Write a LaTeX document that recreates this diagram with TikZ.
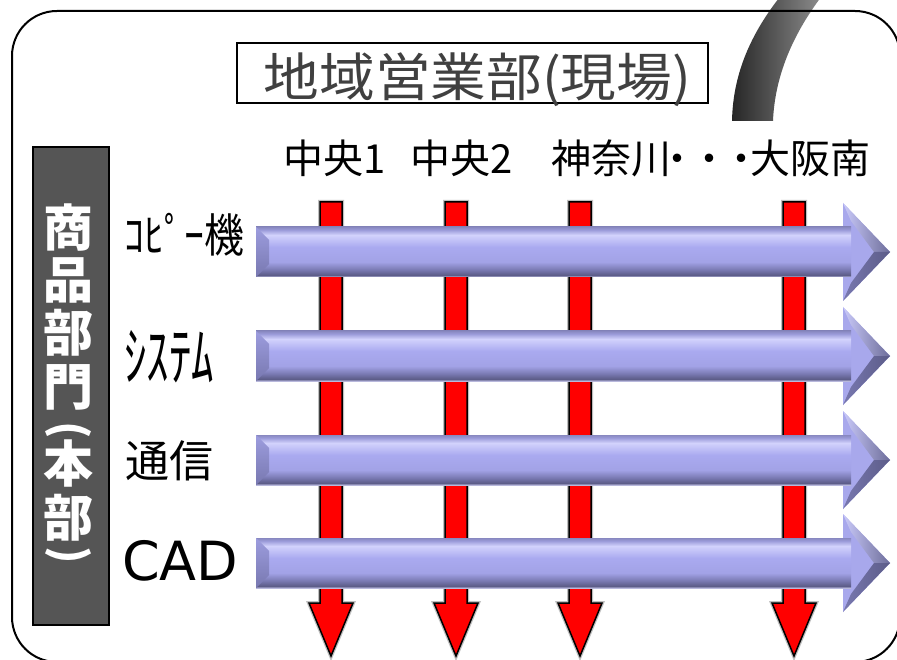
\documentclass[tikz,border=0pt]{standalone}
\usepackage{fontspec}
\setmainfont{Noto Sans CJK JP}
\newfontfamily\dejavu{DejaVu Sans}
\newfontfamily\titlefont{Noto Sans CJK JP}[FakeStretch=1.07]
\definecolor{bB0}{HTML}{B8B8DC}
\definecolor{bB1}{HTML}{5C5C88}
\definecolor{bB2}{HTML}{7878B0}
\definecolor{bB3}{HTML}{A2A2E6}
\definecolor{bB4}{HTML}{AAAAF0}
\definecolor{bB5}{HTML}{D2D2FC}
\definecolor{bB6}{HTML}{9C9CDA}
\definecolor{bB7}{HTML}{8888C0}
\definecolor{bMain}{HTML}{A8A8EC}
\definecolor{boxgray}{HTML}{555555}
\definecolor{titlegray}{HTML}{404040}
\pgfdeclareverticalshading{barshade}{100bp}{color(0bp)=(bB0); color(25bp)=(bB0); color(27bp)=(bB1); color(32bp)=(bB2); color(40bp)=(bB3); color(55bp)=(bB4); color(67bp)=(bB5); color(72bp)=(bB6); color(75bp)=(bB7); color(100bp)=(bB7)}
\tikzset{
  coltext/.style={font=\fontsize{40}{40}\selectfont, inner sep=0pt, anchor=west, text height=33pt, text depth=3pt},
  rowtext/.style={font=\fontsize{42}{42}\selectfont, inner sep=0pt, anchor=west, text height=35pt, text depth=3pt},
  vtext/.style={font=\fontsize{50}{50}\selectfont\bfseries, text=white, inner sep=0pt, text height=41.5pt, text depth=3.5pt},
  vparen/.style={font=\fontsize{44}{44}\selectfont\bfseries, text=white, inner sep=0pt},
  redarrow/.style={fill=red, draw=black, line width=1.5pt, line join=miter},
  redhalo/.style={draw=black!25, line width=4pt, line join=miter},
}
\newcommand\myredarrow[1]{%
  \path[redhalo] (#1-11,202) -- (#1+11,202) -- (#1+11,603) -- (#1+22,603) -- (#1,656) -- (#1-22,603) -- (#1-11,603) -- cycle;
  \path[redarrow] (#1-11,202) -- (#1+11,202) -- (#1+11,603) -- (#1+22,603) -- (#1,656) -- (#1-22,603) -- (#1-11,603) -- cycle;
}
\newcommand\mybluearrow[1]{%
  \fill[bMain] (843,#1-49) -- (890,#1) -- (843,#1+49) -- cycle;
  \shade[left color=bB5!80!bB4, right color=bB7!80!black] (843,#1-49) -- (890,#1) -- (874,#1) -- (851,#1-31) -- cycle;
  \shade[left color=bB2, right color=bB1] (843,#1+49) -- (890,#1) -- (874,#1) -- (851,#1+31) -- cycle;
  \shade[shading=barshade] (256,#1-25) rectangle (851,#1+25);
  \shade[top color=bB3!80!bB7, bottom color=bB2] (256,#1-25) -- (269,#1-12) -- (269,#1+12) -- (256,#1+25) -- cycle;
}
\begin{document}
\begin{tikzpicture}[x=1pt,y=-1pt]
\useasboundingbox (0,0) rectangle (897,660);
\clip (0,0) rectangle (897,660);
\fill[white] (0,0) rectangle (897,660);
% gray curved band
\shade[left color=black!85, right color=black!42]
  (732,121) .. controls (733,72) and (752,30) .. (787,-12) -- (828,-12) .. controls (796,28) and (775,72) .. (773,121) -- cycle;
% outer frame
\draw[line width=2pt, rounded corners=45pt] (12,11) rectangle (900,662);
% title
\node[draw=black, line width=1.5pt, fill=white, minimum width=471pt, minimum height=60pt, inner sep=0pt,
  text height=48pt, text depth=0pt, text=titlegray, font=\fontsize{52}{52}\titlefont] (title) at (472.5,73) {\hspace{10pt}地域営業部(現場)};
% column labels
\node[coltext] (c1) at (283,158.5) {中央1};
\node[coltext] (c2) at (410,158.5) {中央2};
\node[coltext] (c3) at (551,158.5) {神奈川\hspace{-14pt}・\hspace{-8pt}・\hspace{-8pt}・\hspace{-11pt}大阪南};
% red arrows
\myredarrow{331}
\myredarrow{456}
\myredarrow{580}
\myredarrow{794}
% blue arrows
\mybluearrow{252}
\mybluearrow{356}
\mybluearrow{460}
\mybluearrow{563}
% row labels
\node[rowtext] (r1) at (124,237) {\scalebox{0.95}[1.1]{ｺﾋﾟｰ機}};
\node[font=\fontsize{45}{45}\selectfont, inner sep=0pt, anchor=west, text height=47pt, text depth=0pt] (r2) at (124,357) {\scalebox{1}[1.45]{ｼｽﾃﾑ}};
\node[font=\fontsize{44}{44}\selectfont, inner sep=0pt, anchor=west, text height=36.5pt, text depth=3.3pt] (r3) at (125,461) {通信};
\node[font=\fontsize{54}{54}\selectfont\dejavu, inner sep=0pt, anchor=west, text height=39.4pt, text depth=0pt] (r4) at (122,561) {CAD};
% left vertical box
\node[draw=black, line width=1.5pt, fill=boxgray, minimum width=76pt, minimum height=478pt, inner sep=0pt] (lbox) at (71,386) {};
\node[vtext] (v1) at (68,228) {商};
\node[vtext] (v2) at (68,280) {品};
\node[vtext] (v3) at (68,333) {部};
\node[vtext] (v4) at (68,386) {門};
\node[vparen] (v5) at (68,430) {\rotatebox{-90}{(}};
\node[vtext] (v6) at (68,463) {本};
\node[vtext] (v7) at (68,517) {部};
\node[vparen] (v8) at (68,555) {\rotatebox{-90}{)}};
\end{tikzpicture}
\end{document}
